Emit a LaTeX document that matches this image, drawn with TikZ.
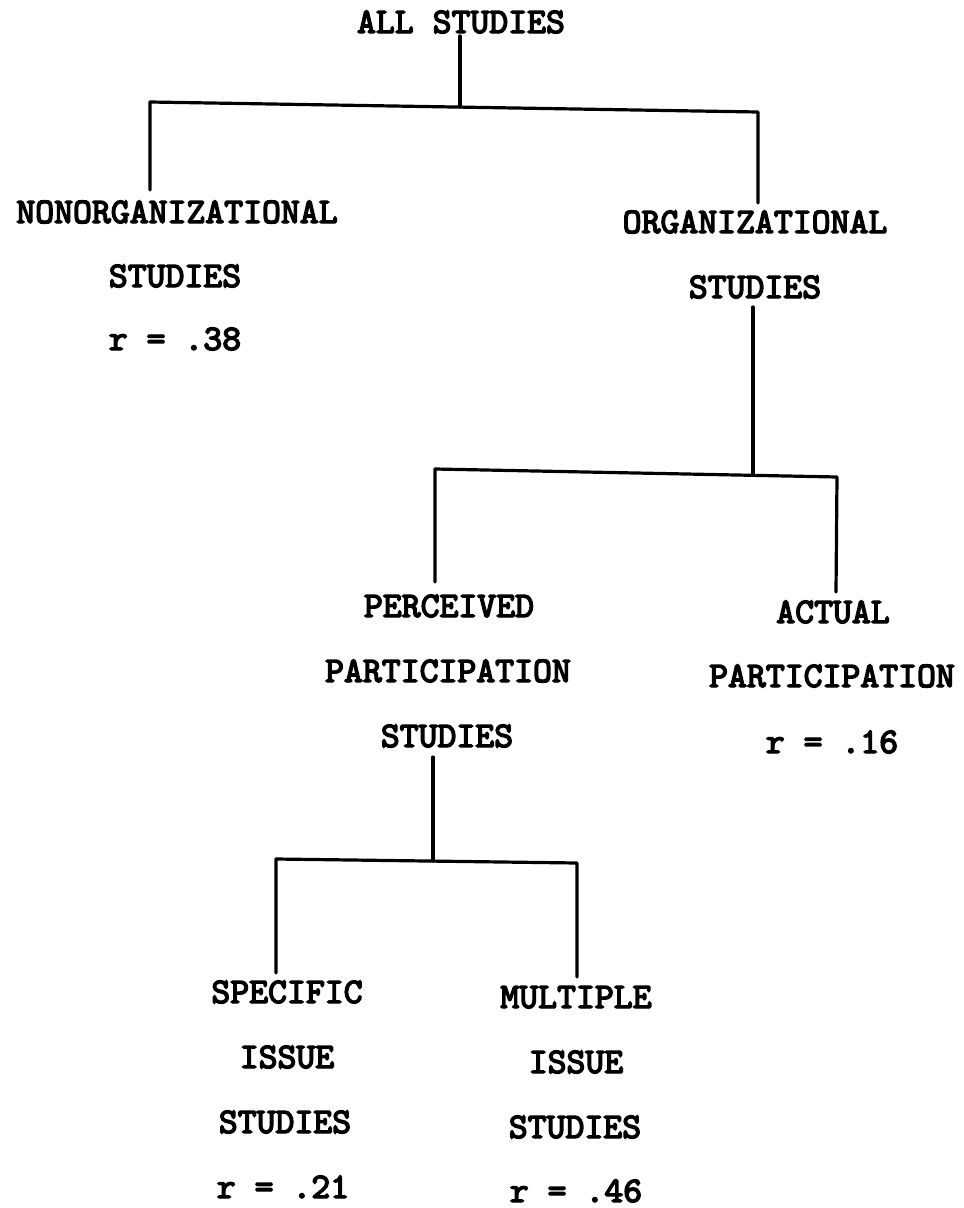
\documentclass[tikz,border=0pt]{standalone}
\usepackage{fontspec}
\newfontfamily\twfont{lmmono10-regular.otf}[FakeBold=4]
\begin{document}
\begin{tikzpicture}[x=1pt,y=-1pt,
  lbl/.style={anchor=base,inner sep=0pt,font=\twfont\fontsize{36}{40}\selectfont},
  conn/.style={line width=3.2pt,line cap=round,line join=round}]
\useasboundingbox[fill=white] (0,0) rectangle (964,1208);
% texts
\node[lbl] (all) at (461,33) {ALL STUDIES};
\node[lbl] (non1) at (177,223) {NONORGANIZATIONAL};
\node[lbl] (non2) at (175,287) {STUDIES};
\node[lbl] (non3) at (175,350) {r = .38};
\node[lbl] (org1) at (755,233) {ORGANIZATIONAL};
\node[lbl] (org2) at (755,298) {STUDIES};
\node[lbl] (per1) at (449,617) {PERCEIVED};
\node[lbl] (per2) at (448,682) {PARTICIPATION};
\node[lbl] (per3) at (447,747) {STUDIES};
\node[lbl] (act1) at (833,623) {ACTUAL};
\node[lbl] (act2) at (832,687) {PARTICIPATION};
\node[lbl] (act3) at (832,753) {r = .16};
\node[lbl] (spe1) at (287,1003) {SPECIFIC};
\node[lbl] (spe2) at (287,1068) {ISSUE};
\node[lbl] (spe3) at (285,1133) {STUDIES};
\node[lbl] (spe4) at (283,1198) {r = .21};
\node[lbl] (mul1) at (576,1008) {MULTIPLE};
\node[lbl] (mul2) at (576,1073) {ISSUE};
\node[lbl] (mul3) at (575,1138) {STUDIES};
\node[lbl] (mul4) at (576,1202) {r = .46};
% connector points
\coordinate (a0) at (460,36);
\coordinate (a1) at (460,107);
\coordinate (aL) at (150,102);
\coordinate (aR) at (758,112);
\coordinate (aLe) at (150,190);
\coordinate (aRe) at (758,203);
\coordinate (b0) at (753,307);
\coordinate (b1) at (753,475);
\coordinate (bL) at (435,469);
\coordinate (bR) at (837,477);
\coordinate (bLe) at (435,582);
\coordinate (bRe) at (836,592);
\coordinate (c0) at (433,757);
\coordinate (c1) at (433,861);
\coordinate (cL) at (276,859);
\coordinate (cR) at (577,863);
\coordinate (cLe) at (276,973);
\coordinate (cRe) at (577,977);
% connectors
\draw[conn] (a0) -- (a1);
\draw[conn] (aLe) -- (aL) -- (aR) -- (aRe);
\draw[conn] (b0) -- (b1);
\draw[conn] (bLe) -- (bL) -- (bR) -- (bRe);
\draw[conn] (c0) -- (c1);
\draw[conn] (cLe) -- (cL) -- (cR) -- (cRe);
\end{tikzpicture}
\end{document}
